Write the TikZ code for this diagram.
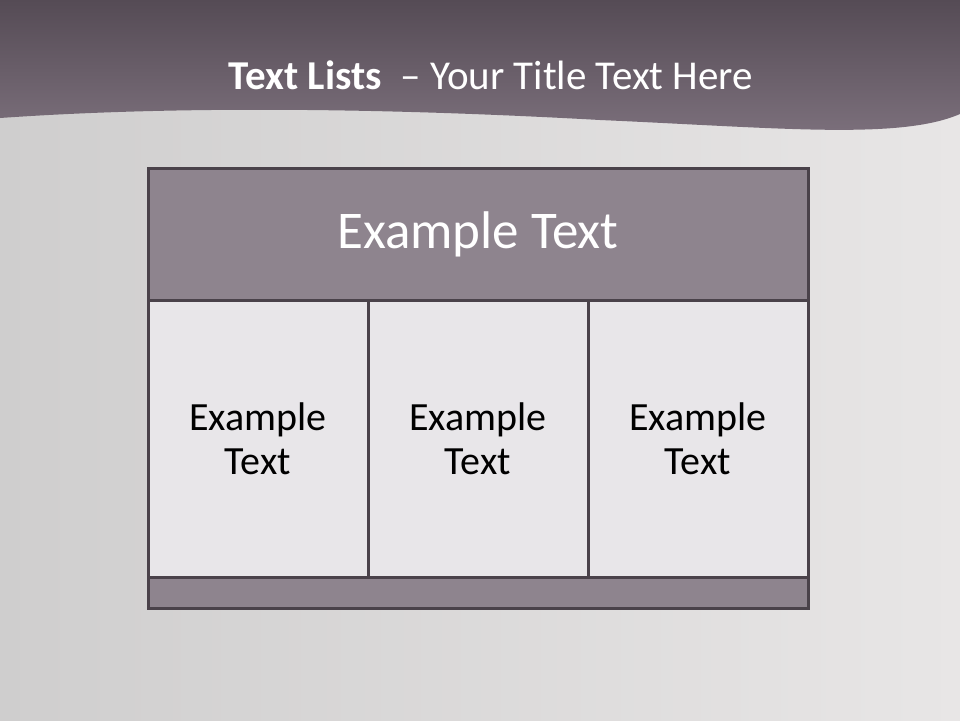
\documentclass[tikz,border=0pt]{standalone}
\usepackage{fontspec}
\setmainfont{Carlito}
\usepackage{xcolor}

\definecolor{bandtop}{HTML}{554B55}
\definecolor{bandlow}{HTML}{7D717D}
\definecolor{paperL}{HTML}{CFCECE}
\definecolor{paperR}{HTML}{E8E6E6}
\definecolor{headfill}{HTML}{8E848E}
\definecolor{cellfill}{HTML}{E8E6E9}
\definecolor{rim}{HTML}{4A424A}

\tikzset{
  headbox/.style={draw=rim, line width=3pt, fill=headfill, text=white,
    minimum width=660pt, minimum height=132pt, inner sep=0pt,
    font=\fontsize{53}{60}\selectfont},
  cellbox/.style={draw=rim, line width=3pt, fill=cellfill, text=black,
    minimum width=220pt, minimum height=277pt, inner sep=0pt, align=center,
    font=\fontsize{40}{44}\selectfont},
  footbox/.style={draw=rim, line width=3pt, fill=headfill,
    minimum width=660pt, minimum height=31pt, inner sep=0pt}
}

\begin{document}
\begin{tikzpicture}[x=1pt,y=-1pt]
  \useasboundingbox (0,0) rectangle (960,720);
  % background
  \shade[left color=paperL, right color=paperR] (0,0) rectangle (960,720);
  \shade[shading angle=30, top color=bandtop, bottom color=bandlow]
    (0,0) -- (960,0) -- (960,114)
    .. controls (900,140) and (780,128) .. (600,120)
    .. controls (420,110) and (200,104) .. (0,118) -- cycle;
  % title
  \node[text=white, font=\fontsize{41}{48}\selectfont] (title) at (491,75)
    {\textbf{Text Lists}\ \ -- Your Title Text Here};
  % table
  \node[headbox] (head) at (478,234) {Example Text};
  \node[cellbox] (cellA) at (258,438.5) {Example\\Text};
  \node[cellbox] (cellB) at (478,438.5) {Example\\Text};
  \node[cellbox] (cellC) at (698,438.5) {Example\\Text};
  \node[footbox] (foot) at (478,592.5) {};
\end{tikzpicture}
\end{document}
